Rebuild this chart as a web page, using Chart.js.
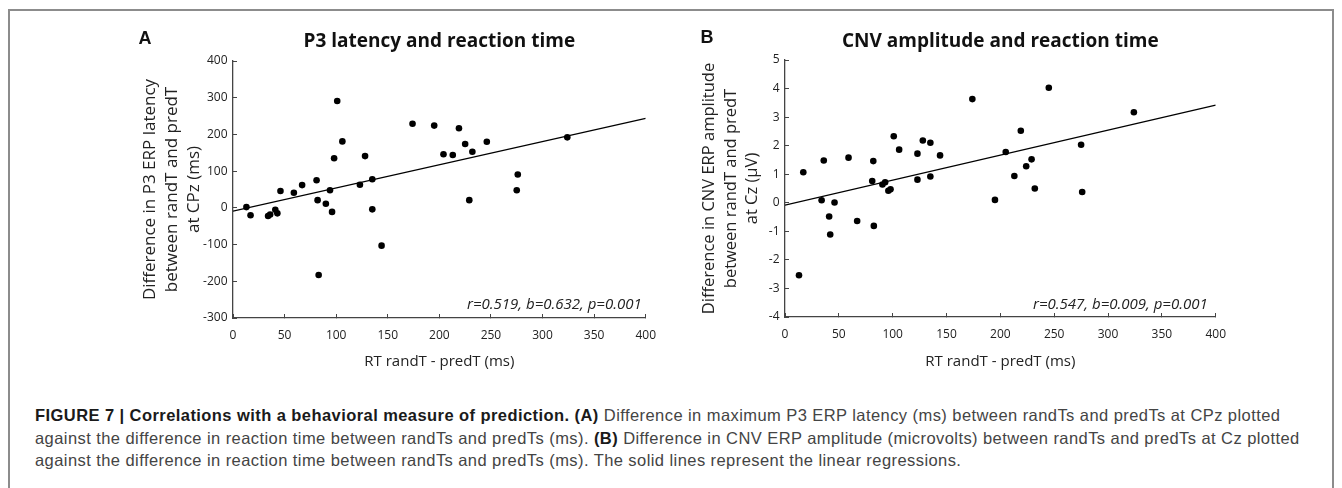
<!DOCTYPE html>
<html>
<head>
<meta charset="utf-8">
<script src="https://cdn.jsdelivr.net/npm/chart.js@4.4.0/dist/chart.umd.min.js"></script>
<style>
  body { margin: 0; width: 1342px; height: 488px; background: #fff; position: relative; overflow: hidden; }
  #frame { position: absolute; left: 8px; top: 9px; width: 1326px; height: 520px; border: 2px solid #8c8c8c; box-sizing: border-box; }
  canvas { position: absolute; top: 0; }
  .letter { position: absolute; font: bold 18px "Liberation Sans", Arial, sans-serif; color: #111; transform: translate(-50%, -50%); }
  #caption { position: absolute; left: 35px; top: 404px; font-family: "Liberation Sans", Arial, sans-serif; font-size: 16.5px; letter-spacing: 0.43px; line-height: 22.5px; color: #444; white-space: nowrap; }
  #caption b { color: #1a1a1a; }
</style>
</head>
<body>
<div id="frame"></div>
<canvas id="chartA" width="670" height="380" style="left:0px"></canvas>
<canvas id="chartB" width="560" height="380" style="left:680px"></canvas>
<div class="letter" style="left:145px;top:38px">A</div>
<div class="letter" style="left:707px;top:37px">B</div>
<div id="caption"><b>FIGURE 7 | Correlations with a behavioral measure of prediction. (A)</b> Difference in maximum P3 ERP latency (ms) between randTs and predTs at CPz plotted<br>against the difference in reaction time between randTs and predTs (ms). <b>(B)</b> Difference in CNV ERP amplitude (microvolts) between randTs and predTs at Cz plotted<br>against the difference in reaction time between randTs and predTs (ms). The solid lines represent the linear regressions.</div>

<script>
// panel A: RT difference (ms) vs P3 latency difference (ms)
const rtA = [13, 17, 34, 36, 41, 43, 46, 59, 67, 81, 82, 83, 90, 94, 96, 98, 101, 106, 123, 128, 135, 135, 144, 174, 195, 204, 213, 219, 225, 229, 232, 246, 275, 276, 324];
const p3A = [2, -20, -22, -18, -5, -15, 46, 41, 62, 75, 21, -183, 11, 48, -11, 135, 291, 181, 63, 141, 78, -4, -103, 229, 224, 146, 144, 217, 174, 21, 153, 180, 48, 91, 192];
const fitXA = [0, 400];
const fitYA = [-9, 244];

// panel B: RT difference (ms) vs CNV amplitude difference (µV)
const rtB = [13, 17, 34, 36, 41, 42, 46, 59, 67, 81, 82, 82.5, 90.5, 93, 96, 98, 101, 106, 123, 123, 128, 135, 135, 144, 174, 195, 205, 213, 219, 224, 229, 232, 245, 275, 276, 324];
const cnvB = [-2.54, 1.07, 0.09, 1.48, -0.48, -1.11, 0.01, 1.58, -0.64, 0.76, 1.46, -0.81, 0.64, 0.72, 0.42, 0.47, 2.33, 1.86, 1.72, 0.81, 2.18, 2.10, 0.92, 1.66, 3.63, 0.10, 1.78, 0.94, 2.52, 1.28, 1.52, 0.50, 4.03, 2.03, 0.38, 3.17];
const fitXB = [0, 400];
const fitYB = [-0.08, 3.42];

const xTitle = 'RT randT - predT (ms)';

// titles above the plot area and the italic stats in the corner
const panelText = {
    id: 'panelText',
    afterDraw(chart, args, opts) {
        const ctx = chart.ctx;
        const area = chart.chartArea;
        ctx.save();
        ctx.fillStyle = '#111';
        ctx.textAlign = 'center';
        ctx.textBaseline = 'middle';
        ctx.font = 'bold 19px "Open Sans"';
        ctx.fillText(opts.title, (area.left + area.right) / 2, 42);
        ctx.fillStyle = '#222';
        ctx.textAlign = 'right';
        ctx.font = 'italic 15px "Open Sans"';
        ctx.fillText(opts.note, area.right - opts.noteRight, 305);
        ctx.restore();
    }
};

function makeChart(id, o) {
    return new Chart(document.getElementById(id), {
        type: 'scatter',
        data: {
            datasets: [{
                data: o.xs.map((x, i) => ({ x: x, y: o.ys[i] })),
                backgroundColor: '#000',
                borderColor: '#000',
                pointRadius: 3.3,
                pointBorderWidth: 0
            }, {
                type: 'line',
                data: o.fitX.map((x, i) => ({ x: x, y: o.fitY[i] })),
                borderColor: '#000',
                borderWidth: 1.3,
                pointRadius: 0,
                tension: 0,
                fill: false
            }]
        },
        options: {
            responsive: false,
            animation: false,
            devicePixelRatio: 1,
            layout: { padding: { left: o.padLeft, right: o.padRight, top: o.top, bottom: 0 } },
            plugins: {
                legend: { display: false },
                tooltip: { enabled: false },
                panelText: { title: o.title, note: o.note, noteRight: o.noteRight }
            },
            scales: {
                x: {
                    type: 'linear',
                    min: 0,
                    max: 400,
                    ticks: { stepSize: 50, padding: 14, maxRotation: 0, color: '#222', font: { family: 'Open Sans', size: 12 } },
                    grid: { drawOnChartArea: false, drawTicks: true, tickLength: -4, color: '#444' },
                    border: { color: '#444', width: 1.3 },
                    title: { display: true, text: xTitle, color: '#222', font: { family: 'Open Sans', size: 15 }, padding: { top: 0, bottom: 9 } },
                    afterFit: s => { s.height = o.xHeight; }
                },
                y: {
                    type: 'linear',
                    min: o.yMin,
                    max: o.yMax,
                    ticks: { stepSize: o.yStep, padding: 9.5, color: '#222', font: { family: 'Open Sans', size: 12 } },
                    grid: { drawOnChartArea: false, drawTicks: true, tickLength: -4, color: '#444' },
                    border: { color: '#444', width: 1.3 },
                    title: { display: true, text: o.yTitle, color: '#222', font: { family: 'Open Sans', size: o.yTitleSize, lineHeight: 1.3 }, padding: { top: 0, bottom: 0 } },
                    afterFit: s => { s.width = o.yWidth; }
                }
            }
        },
        plugins: [panelText]
    });
}

makeChart('chartA', {
    xs: rtA, ys: p3A, fitX: fitXA, fitY: fitYA,
    yMin: -300, yMax: 400, yStep: 100,
    yTitle: ['Difference in P3 ERP latency', 'between randT and predT', 'at CPz (ms)'],
    yTitleSize: 17,
    title: 'P3 latency and reaction time',
    note: 'r=0.519, b=0.632, p=0.001', noteRight: 4,
    padLeft: 139, padRight: 16, top: 61, yWidth: 94, xHeight: 62
});

makeChart('chartB', {
    xs: rtB, ys: cnvB, fitX: fitXB, fitY: fitYB,
    yMin: -4, yMax: 5, yStep: 1,
    yTitle: ['Difference in CNV ERP amplitude', 'between randT and predT', 'at Cz (µV)'],
    yTitleSize: 16.5,
    title: 'CNV amplitude and reaction time',
    note: 'r=0.547, b=0.009, p=0.001', noteRight: 8,
    padLeft: 19, padRight: 24, top: 60, yWidth: 86, xHeight: 63
});
</script>
</body>
</html>
